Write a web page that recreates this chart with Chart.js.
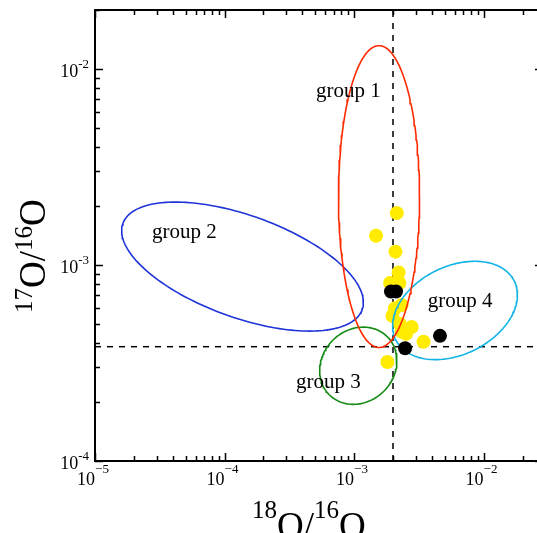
<!DOCTYPE html>
<html><head><meta charset="utf-8">
<script src="https://cdn.jsdelivr.net/npm/chart.js@4/dist/chart.umd.min.js"></script>
<style>html,body{margin:0;padding:0;background:#fff;overflow:hidden}#wrap{position:relative;width:537px;height:533px}</style>
</head><body><div id="wrap"><canvas id="c" width="537" height="533"></canvas></div>
<script>
// ---- data ----
const yellowX = [2.14e-3, 1.48e-3, 2.09e-3, 2.21e-3, 1.90e-3, 2.24e-3, 2.33e-3, 2.07e-3, 1.98e-3, 2.26e-3, 2.79e-3, 2.52e-3, 3.44e-3, 1.81e-3, 2.33e-3];
const yellowY = [1.84e-3, 1.41e-3, 1.17e-3, 9.16e-4, 8.09e-4, 8.09e-4, 6.25e-4, 6.01e-4, 5.50e-4, 5.00e-4, 4.83e-4, 4.45e-4, 4.06e-4, 3.20e-4, 4.57e-4];
const blackX = [1.93e-3, 2.11e-3, 2.48e-3, 4.61e-3];
const blackY = [7.33e-4, 7.33e-4, 3.76e-4, 4.35e-4];

const groupNames = ['group 1', 'group 2', 'group 3', 'group 4'];
const groupColors = ['#ff2a00', '#1e34d8', '#138a13', '#12b4e6'];
// ellipse outlines: centre (log10) and two conjugate semi-axes (in decades)
const ellipseCenterLogX = [-2.807, -3.861, -2.967, -2.220];
const ellipseCenterLogY = [-2.651, -3.008, -3.514, -3.232];
const ellipseAxisU = [[0.313, 0], [0.9236, -0.2199], [0.224, 0.148], [0.458, 0.1495]];
const ellipseAxisV = [[0, 0.770], [-0.1336, -0.2449], [0.197, -0.130], [0.1506, -0.2015]];
const groupLabelX = [5.09e-4, 2.75e-5, 3.56e-4, 3.71e-3];
const groupLabelY = [7.19e-3, 1.374e-3, 2.36e-4, 6.11e-4];

const solar18 = 2.0e-3;
const solar17 = 3.83e-4;

const xRange = [1e-5, 0.02588];
const yRange = [1e-4, 0.02];
const xMajorTicks = [1e-5, 1e-4, 1e-3, 1e-2];
const xTickExp = ['\u22125', '\u22124', '\u22123', '\u22122'];
const yMajorTicks = [1e-4, 1e-3, 1e-2];
const yTickExp = ['-4', '-3', '-2'];
const minorMultipliers = [2, 3, 4, 5, 6, 7, 8, 9];

// ---- build datasets ----
function ellipsePoints(i) {
  const pts = [];
  const N = 180;
  for (let k = 0; k <= N; k++) {
    const t = 2 * Math.PI * k / N;
    const lx = ellipseCenterLogX[i] + ellipseAxisU[i][0] * Math.cos(t) + ellipseAxisV[i][0] * Math.sin(t);
    const ly = ellipseCenterLogY[i] + ellipseAxisU[i][1] * Math.cos(t) + ellipseAxisV[i][1] * Math.sin(t);
    pts.push({x: Math.pow(10, lx), y: Math.pow(10, ly)});
  }
  return pts;
}

const datasets = [];
datasets.push({
  data: [{x: solar18, y: yRange[0]}, {x: solar18, y: yRange[1]}],
  showLine: true, borderColor: '#000', borderWidth: 1.5, borderDash: [6, 6],
  pointRadius: 0, order: 5
});
datasets.push({
  data: [{x: xRange[0], y: solar17}, {x: xRange[1], y: solar17}],
  showLine: true, borderColor: '#000', borderWidth: 1.5, borderDash: [6, 6],
  pointRadius: 0, order: 5
});
datasets.push({
  data: yellowX.map((x, i) => ({x, y: yellowY[i]})),
  backgroundColor: '#ffec00', borderWidth: 0, pointRadius: 7, order: 3
});
for (let i = 0; i < groupNames.length; i++) {
  datasets.push({
    label: groupNames[i],
    data: ellipsePoints(i),
    showLine: true, borderColor: groupColors[i], borderWidth: 1.6,
    pointRadius: 0, tension: 0, fill: false, order: 2
  });
}
datasets.push({
  data: blackX.map((x, i) => ({x, y: blackY[i]})),
  backgroundColor: '#000', borderWidth: 0, pointRadius: 7, order: 0
});

const SERIF = '"Liberation Serif", "Times New Roman", serif';

const framePlugin = {
  id: 'frame',
  afterDatasetsDraw(chart) {
    const ctx = chart.ctx, ca = chart.chartArea;
    const xs = chart.scales.x, ys = chart.scales.y;
    const rightAxis = ca.right + 6; // the right axis sits just beyond the visible edge
    ctx.save();
    // group labels
    ctx.fillStyle = '#000';
    ctx.font = '21px ' + SERIF;
    ctx.textAlign = 'left';
    ctx.textBaseline = 'alphabetic';
    for (let i = 0; i < groupNames.length; i++) {
      ctx.fillText(groupNames[i], xs.getPixelForValue(groupLabelX[i]), ys.getPixelForValue(groupLabelY[i]));
    }
    // frame
    ctx.strokeStyle = '#000';
    ctx.lineWidth = 2;
    ctx.beginPath();
    ctx.moveTo(ca.left, ca.top); ctx.lineTo(rightAxis, ca.top);
    ctx.lineTo(rightAxis, ca.bottom); ctx.lineTo(ca.left, ca.bottom); ctx.closePath();
    ctx.stroke();
    // ticks
    ctx.lineWidth = 1.5;
    ctx.beginPath();
    xMajorTicks.forEach(d => {
      [1].concat(minorMultipliers).forEach(m => {
        const v = d * m;
        if (v < xRange[0] || v > xRange[1]) return;
        const px = Math.round(xs.getPixelForValue(v)) + 0.5;
        const len = m === 1 ? 8 : 5;
        ctx.moveTo(px, ca.bottom); ctx.lineTo(px, ca.bottom - len);
        ctx.moveTo(px, ca.top); ctx.lineTo(px, ca.top + len);
      });
    });
    yMajorTicks.forEach(d => {
      [1].concat(minorMultipliers).forEach(m => {
        const v = d * m;
        if (v < yRange[0] || v > yRange[1]) return;
        const py = Math.round(ys.getPixelForValue(v)) + 0.5;
        const len = m === 1 ? 8 : 5;
        ctx.moveTo(ca.left, py); ctx.lineTo(ca.left + len, py);
        ctx.moveTo(rightAxis, py); ctx.lineTo(rightAxis - len, py);
      });
    });
    ctx.stroke();
    // x tick labels
    xMajorTicks.forEach((v, i) => {
      const px = xs.getPixelForValue(v);
      ctx.font = '18px ' + SERIF;
      const wb = ctx.measureText('10').width;
      ctx.font = '13px ' + SERIF;
      const we = ctx.measureText(xTickExp[i]).width;
      const left = px - 2 - (wb + we) / 2;
      ctx.textAlign = 'left';
      ctx.font = '18px ' + SERIF;
      ctx.fillText('10', left, ca.bottom + 24);
      ctx.font = '13px ' + SERIF;
      ctx.fillText(xTickExp[i], left + wb, ca.bottom + 12);
    });
    // y tick labels
    yMajorTicks.forEach((v, i) => {
      const py = ys.getPixelForValue(v);
      ctx.font = '13px ' + SERIF;
      const we = ctx.measureText(yTickExp[i]).width;
      const right = ca.left - 6;
      ctx.textAlign = 'right';
      ctx.fillText(yTickExp[i], right, py - 1);
      ctx.font = '18px ' + SERIF;
      ctx.fillText('10', right - we, py + 8);
    });
    // axis titles
    function title(x0, baseMain, raise, a, b) {
      let x = x0;
      ctx.textAlign = 'left';
      const parts = [[a, true], ['O', false], ['/', false], [b, true], ['O', false]];
      parts.forEach(([t, sup]) => {
        ctx.font = (sup ? '25px ' : '37px ') + SERIF;
        ctx.fillText(t, x, sup ? baseMain - raise : baseMain);
        x += ctx.measureText(t).width;
      });
    }
    title(252, 538, 20, '18', '16');
    ctx.translate(45, 313);
    ctx.rotate(-Math.PI / 2);
    title(0, 0, 13, '17', '16');
    ctx.restore();
  }
};

new Chart(document.getElementById('c'), {
  type: 'scatter',
  data: {datasets},
  options: {
    responsive: false,
    animation: false,
    devicePixelRatio: 1,
    events: [],
    layout: {autoPadding: false, padding: {left: 95, top: 10, right: 0, bottom: 72}},
    scales: {
      x: {type: 'logarithmic', min: xRange[0], max: xRange[1], display: false},
      y: {type: 'logarithmic', min: yRange[0], max: yRange[1], display: false}
    },
    plugins: {legend: {display: false}, tooltip: {enabled: false}}
  },
  plugins: [framePlugin]
});
</script>
</body></html>
